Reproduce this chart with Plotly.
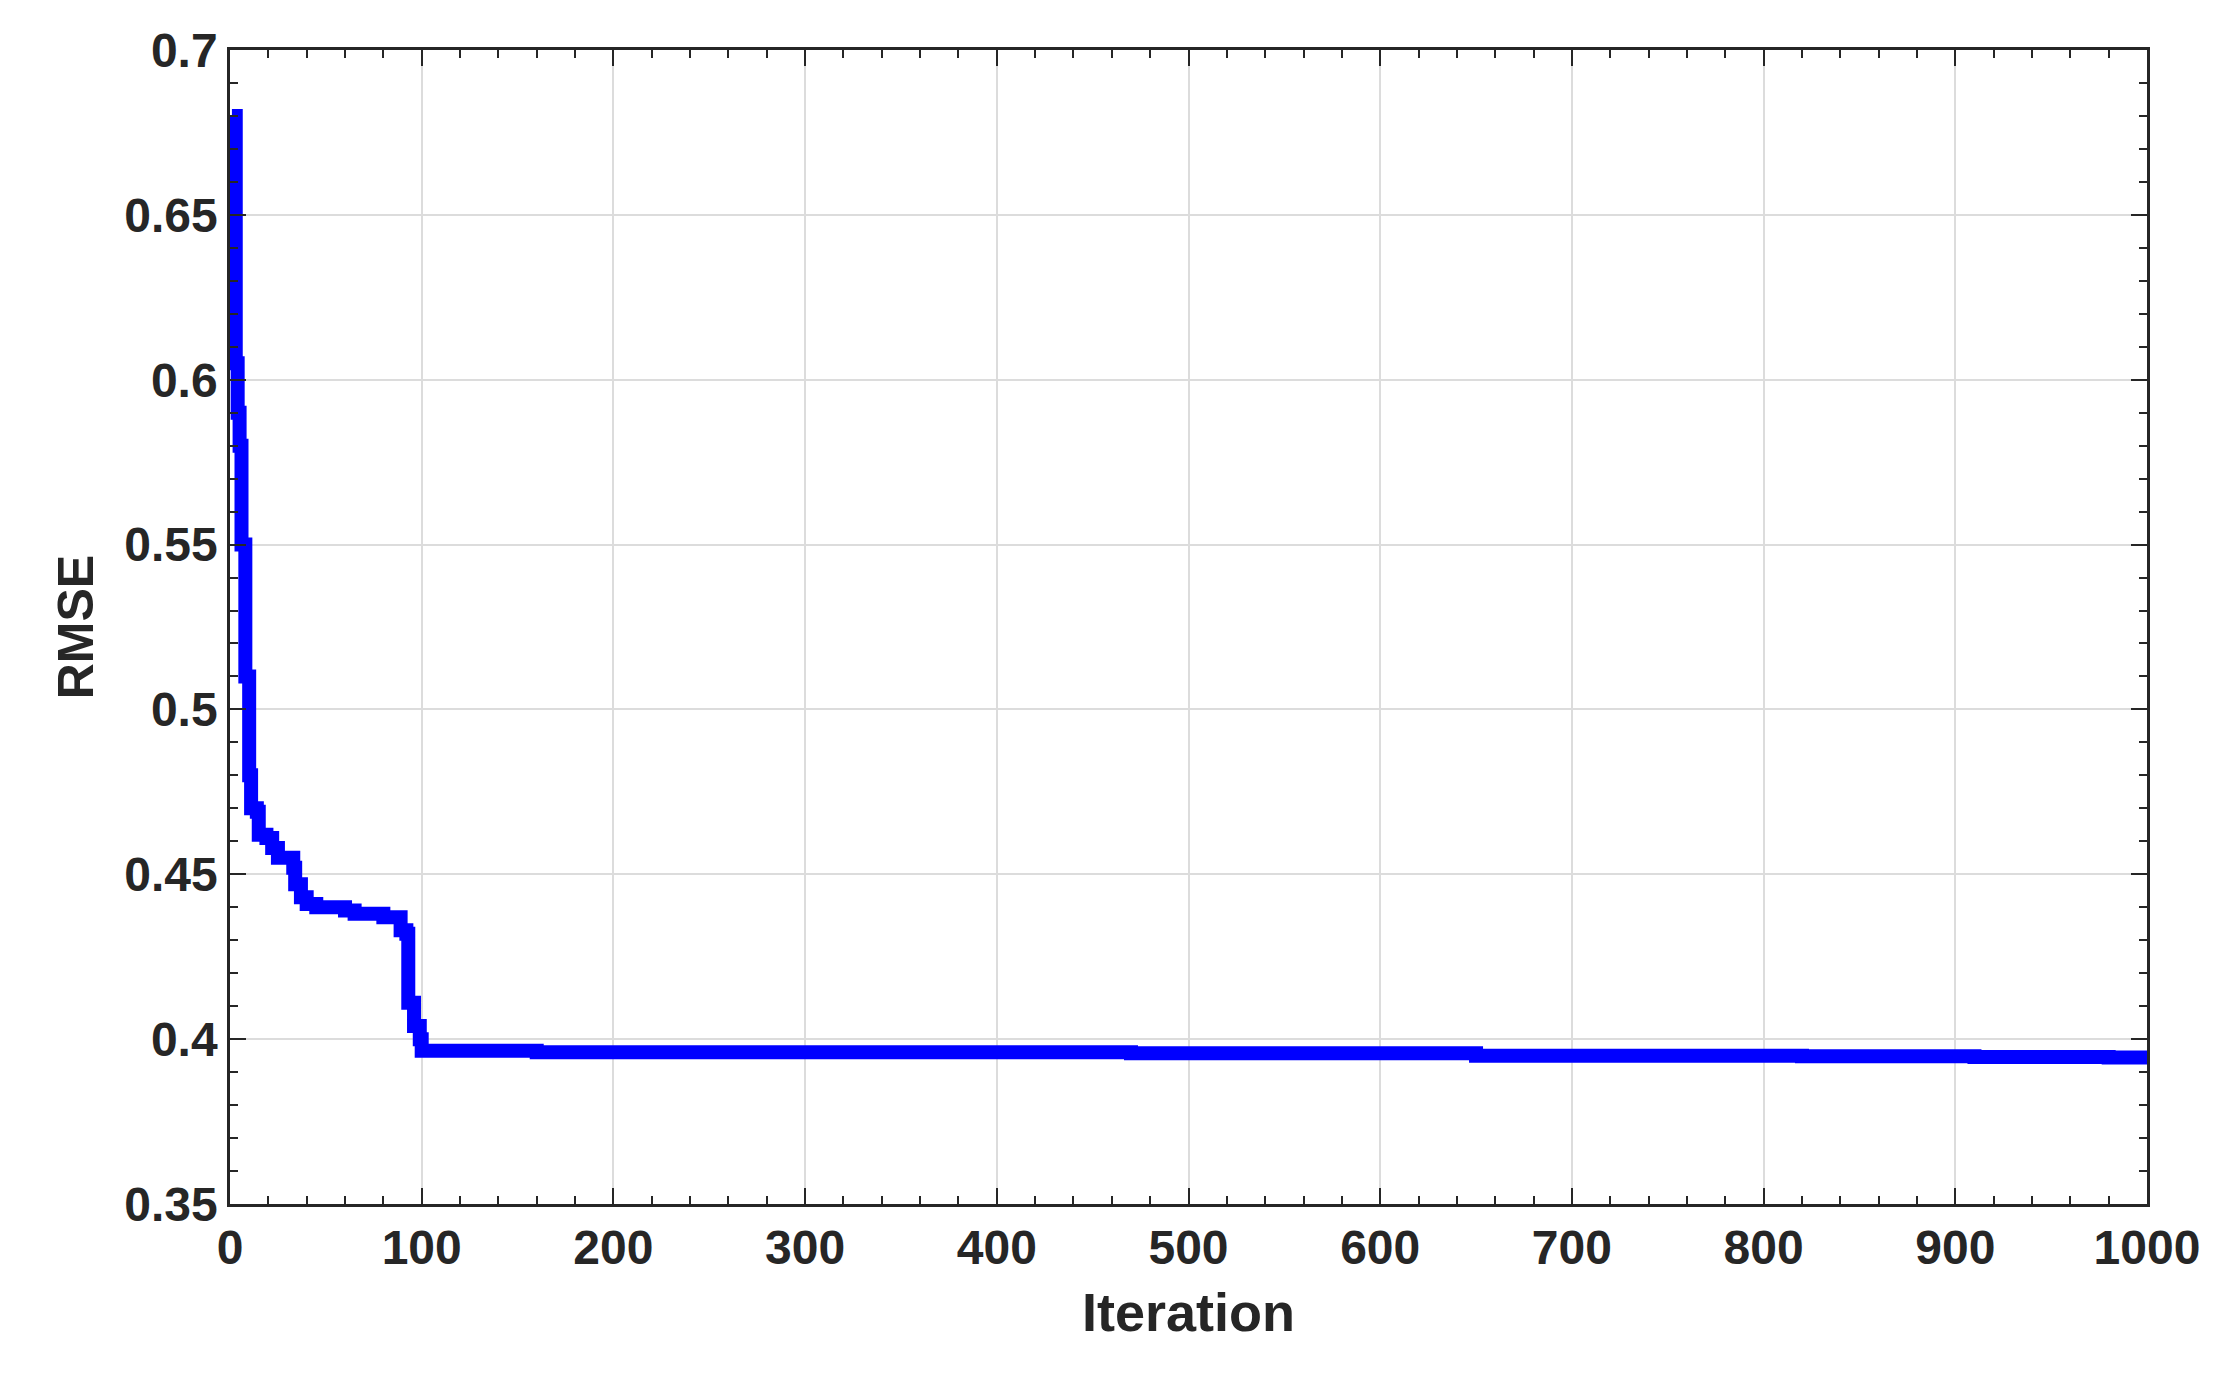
import plotly.graph_objects as go

iteration = [1, 2, 3, 4, 5, 6, 8, 10, 11, 14, 15, 19, 22, 25, 30, 33, 34, 37, 40, 45, 55, 60, 65, 80, 88, 89, 92, 93, 96, 99, 100, 160, 470, 650, 820, 910, 980, 1000]
rmse = [0.68, 0.68, 0.605, 0.59, 0.58, 0.55, 0.51, 0.48, 0.47, 0.469, 0.462, 0.461, 0.458, 0.455, 0.455, 0.452, 0.447, 0.443, 0.441, 0.44, 0.44, 0.439, 0.438, 0.437, 0.437, 0.433, 0.432, 0.411, 0.404, 0.4, 0.3965, 0.396, 0.3957, 0.395, 0.3948, 0.3946, 0.3944, 0.394]

fig = go.Figure(go.Scatter(x=iteration, y=rmse, mode="lines", line=dict(color="#0000FF", width=14, shape="hv")))
axcommon = dict(showline=True, linecolor="#262626", linewidth=2.5, mirror="ticks", ticks="inside", ticklen=16,
                tickwidth=2, tickcolor="#262626", showgrid=True, gridcolor="#DCDCDC", gridwidth=1.5, zeroline=False,
                tickfont=dict(family="Liberation Sans", size=48, color="#262626"))
fig.update_xaxes(range=[0, 1000], dtick=100, minor=dict(ticks="inside", ticklen=8, dtick=20, tickcolor="#262626", showgrid=False),
                 title=dict(text="<b>Iteration</b>", font=dict(family="Liberation Sans", size=54, color="#262626"), standoff=20),
                 tickprefix="<b>", ticksuffix="</b>", **axcommon)
fig.update_yaxes(range=[0.35, 0.7], dtick=0.05, minor=dict(ticks="inside", ticklen=8, dtick=0.01, tickcolor="#262626", showgrid=False),
                 title=dict(text="<b>RMSE</b>", font=dict(family="Liberation Sans", size=50, color="#262626"), standoff=15),
                 tickprefix="<b>", ticksuffix="</b>", **axcommon)
fig.update_layout(width=2217, height=1374, plot_bgcolor="white", paper_bgcolor="white", showlegend=False,
                  margin=dict(l=222, r=78, t=42, b=178))
fig.write_html("out.html")
